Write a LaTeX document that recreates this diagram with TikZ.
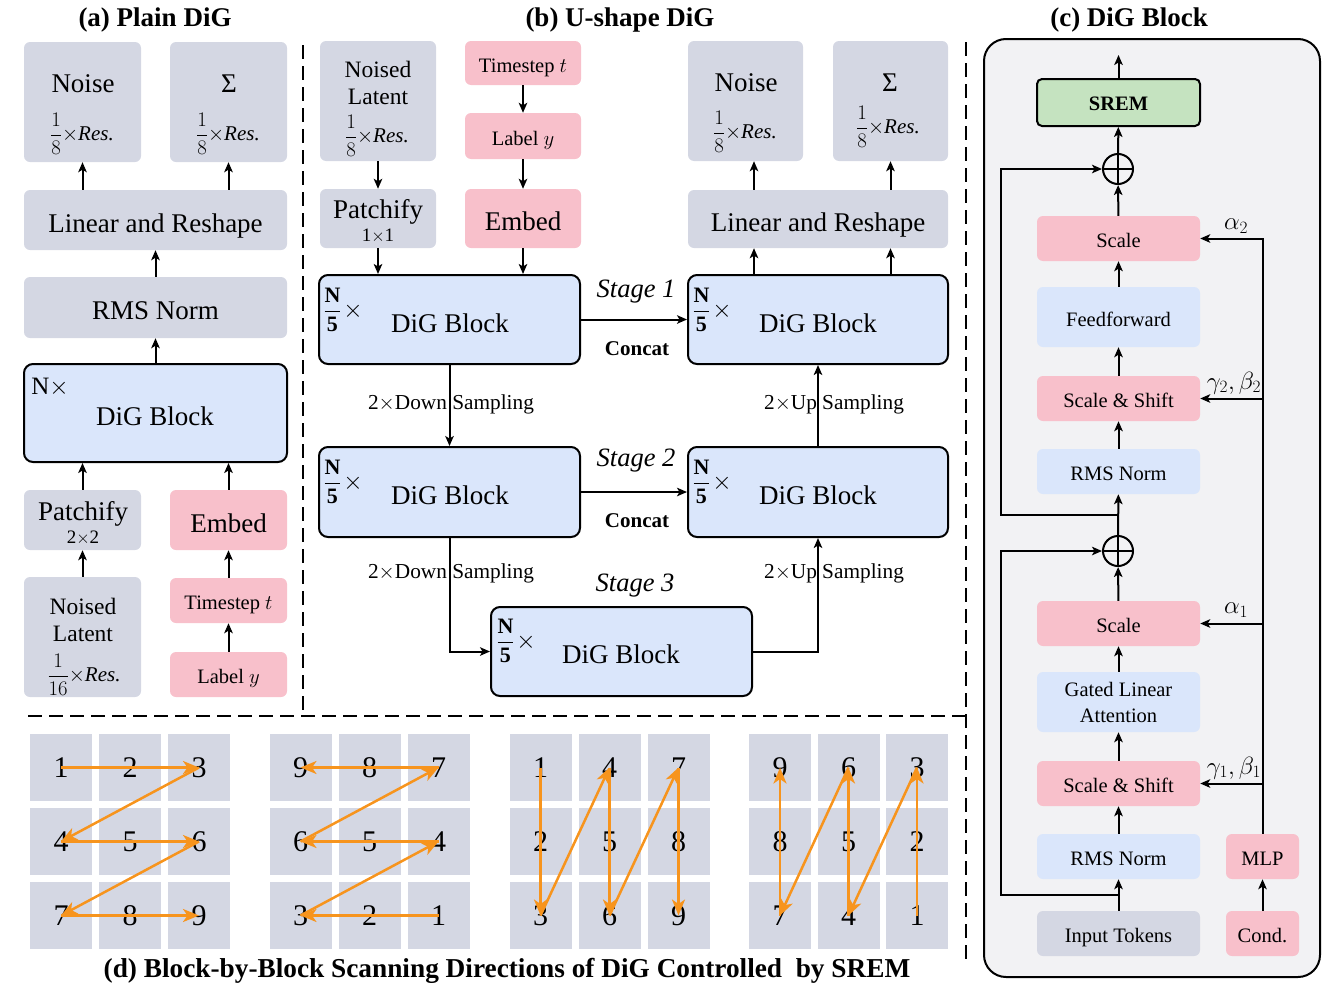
\documentclass[tikz,border=0pt]{standalone}
\usepackage{amsmath}
\usepackage{fontspec}
\setmainfont{Liberation Serif}
\usetikzlibrary{arrows.meta,calc}
\definecolor{cgray}{RGB}{212,215,227}
\definecolor{cpink}{RGB}{248,192,203}
\definecolor{cblue}{RGB}{218,230,251}
\definecolor{cgreen}{RGB}{197,227,192}
\definecolor{cbg}{RGB}{242,242,244}
\definecolor{corange}{RGB}{247,148,29}
\tikzset{
 every node/.append style={align=center},
 bxbase/.style={inner sep=0pt, align=center},
 gbox/.style={bxbase, fill=cgray, rounded corners=6pt},
 pbox/.style={bxbase, fill=cpink, rounded corners=6pt},
 lbox/.style={bxbase, fill=cblue, rounded corners=6pt},
 dbox/.style={bxbase, fill=cblue, draw=black, line width=2pt, rounded corners=9pt},
 fbig/.style={font=\fontsize{27}{30}\selectfont},
 fmid/.style={font=\fontsize{23.5}{27}\selectfont},
 fsml/.style={font=\fontsize{20.5}{26}\selectfont},
 bbig/.style={fbig, text height=24pt, text depth=0pt},
 bsml/.style={fsml, text height=18pt, text depth=0pt},
 fsam/.style={font=\fontsize{21.3}{26}\selectfont},
 fgk/.style={font=\fontsize{24}{26}\selectfont},
 ttl/.style={font=\fontsize{27}{30}\selectfont\bfseries},
 capttl/.style={font=\fontsize{27.3}{30}\selectfont\bfseries},
 stg/.style={font=\fontsize{26.5}{30}\selectfont\itshape},
 ccat/.style={font=\fontsize{21}{24}\selectfont\bfseries},
 arr/.style={-{Stealth[length=10pt,width=8.5pt,inset=2.5pt]}, line width=2pt},
 dsh/.style={line width=2.5pt, dash pattern=on 14pt off 7pt},
 gcell/.style={bxbase, fill=cgray, minimum width=62pt, minimum height=67pt, font=\fontsize{30}{32}\selectfont},
 oarr/.style={-{Stealth[length=16pt,width=13pt,inset=4.5pt]}, line width=2.5pt, draw=corange},
}
\newcommand\fracres[2]{{\fontsize{22}{24}\selectfont$\dfrac{#1}{#2}{\times}$}{\fontsize{21}{24}\selectfont\itshape Res.}}
\newcommand\nfive{{\fontsize{22}{24}\selectfont$\dfrac{\mathbf{N}}{\mathbf{5}}$}\,{\fontsize{32}{34}\selectfont$\times$}}
\begin{document}
\begin{tikzpicture}[x=1pt,y=-1pt]
\useasboundingbox (0,0) rectangle (1338,996);

% ---------- titles ----------
\node[ttl] (tA) at (155,20) {(a) Plain DiG};
\node[ttl] (tB) at (620,20) {(b) U-shape DiG};
\node[ttl] (tC) at (1129,20) {(c) DiG Block};

% ---------- dashed separators ----------
\draw[dsh] (303,45) -- (303,716);
\draw[dsh] (28,716) -- (966,716);
\draw[dsh] (966,42) -- (966,965);

% ---------- panel (a) ----------
\node[gbox, minimum width=117pt, minimum height=120pt] (aNoise) at (82.5,102) {};
\node[fbig] (aNoiseT) at (83,84) {Noise};
\node (aNoiseF) at (82,134) {\fracres{1}{8}};
\node[gbox, minimum width=117pt, minimum height=120pt] (aSig) at (228.5,102) {};
\node[fbig] (aSigT) at (229,84) {Σ};
\node (aSigF) at (228,134) {\fracres{1}{8}};
\node[gbox, bbig, minimum width=263pt, minimum height=60pt] (aLin) at (155.5,220) {Linear and Reshape};
\node[gbox, bbig, minimum width=263pt, minimum height=61pt] (aRms) at (155.5,307.5) {RMS Norm};
\node[dbox, minimum width=263pt, minimum height=98pt] (aDig) at (155.5,413) {};
\node[fbig] (aDigT) at (155,416) {DiG Block};
\node (aDigN) at (50,387) {{\fontsize{25}{28}\selectfont N}{\fontsize{31}{32}\selectfont$\times$}};
\node[gbox, minimum width=117pt, minimum height=60pt] (aPatch) at (82.5,520) {};
\node[fbig] (aPatchT) at (83,514) {Patchify};
\node[font=\fontsize{19}{22}\selectfont] (aPatchS) at (83,538) {2$\times$2};
\node[pbox, bbig, minimum width=117pt, minimum height=60pt] (aEmbed) at (228.5,520) {Embed};
\node[gbox, minimum width=117pt, minimum height=120pt] (aNoised) at (82.5,637) {};
\node[fmid] (aNoisedT) at (83,620) {Noised\\Latent};
\node (aNoisedF) at (84,675) {\fracres{1}{16}};
\node[pbox, bsml, minimum width=117pt, minimum height=45pt] (aTime) at (228.5,600.5) {Timestep $t$};
\node[pbox, bsml, minimum width=117pt, minimum height=45pt] (aLabel) at (228.5,674.5) {Label $y$};

\draw[arr] (aLin.north -| aNoise.south) -- (aNoise.south);
\draw[arr] (aLin.north -| aSig.south) -- (aSig.south);
\draw[arr] (aRms) -- (aLin);
\draw[arr] (aDig) -- (aRms);
\draw[arr] (aPatch.north) -- (aPatch.north |- aDig.south);
\draw[arr] (aEmbed.north) -- (aEmbed.north |- aDig.south);
\draw[arr] (aNoised) -- (aPatch);
\draw[arr] (aTime) -- (aEmbed);
\draw[arr] (aLabel) -- (aTime);

% ---------- panel (b) ----------
\node[gbox, minimum width=116pt, minimum height=120pt] (bNoised) at (378,101) {};
\node[fmid] (bNoisedT) at (378,83) {Noised\\Latent};
\node (bNoisedF) at (377,136) {\fracres{1}{8}};
\node[pbox, bsml, minimum width=116pt, minimum height=44pt] (bTime) at (523,63) {Timestep $t$};
\node[pbox, bsml, minimum width=116pt, minimum height=46pt] (bLabel) at (523,136) {Label $y$};
\node[gbox, minimum width=116pt, minimum height=59pt] (bPatch) at (378,218.5) {};
\node[fbig] (bPatchT) at (378,212) {Patchify};
\node[font=\fontsize{19}{22}\selectfont] (bPatchS) at (378,236) {1$\times$1};
\node[pbox, bbig, minimum width=116pt, minimum height=59pt] (bEmbed) at (523,218.5) {Embed};
\node[gbox, minimum width=115pt, minimum height=120pt] (bNoise) at (745.5,101) {};
\node[fbig] (bNoiseT) at (746,83) {Noise};
\node (bNoiseF) at (745,132) {\fracres{1}{8}};
\node[gbox, minimum width=115pt, minimum height=120pt] (bSig) at (890.5,101) {};
\node[fbig] (bSigT) at (890,83) {Σ};
\node (bSigF) at (888,127) {\fracres{1}{8}};
\node[gbox, bbig, minimum width=260pt, minimum height=58pt] (bLin) at (818,219) {Linear and Reshape};

\node[dbox, minimum width=261pt, minimum height=89pt] (bD1L) at (449.5,319.5) {};
\node[fbig] (bD1LT) at (450,323) {DiG Block};
\node (bD1LN) at (343,310) {\nfive};
\node[dbox, minimum width=260pt, minimum height=89pt] (bD1R) at (818,319.5) {};
\node[fbig] (bD1RT) at (818,323) {DiG Block};
\node (bD1RN) at (712,310) {\nfive};
\node[dbox, minimum width=261pt, minimum height=90pt] (bD2L) at (449.5,492) {};
\node[fbig] (bD2LT) at (450,495) {DiG Block};
\node (bD2LN) at (343,482) {\nfive};
\node[dbox, minimum width=260pt, minimum height=90pt] (bD2R) at (818,492) {};
\node[fbig] (bD2RT) at (818,495) {DiG Block};
\node (bD2RN) at (712,482) {\nfive};
\node[dbox, minimum width=261pt, minimum height=89pt] (bD3) at (621.5,651.5) {};
\node[fbig] (bD3T) at (621,654) {DiG Block};
\node (bD3N) at (516,641) {\nfive};

\node[stg] (bS1) at (636,292) {Stage 1};
\node[ccat] (bC1) at (637,349) {Concat};
\node[stg] (bS2) at (636,461) {Stage 2};
\node[ccat] (bC2) at (637,521) {Concat};
\node[stg] (bS3) at (635,586) {Stage 3};
\node[fsam] (bDs1) at (451,404) {2$\times$Down Sampling};
\node[fsam] (bUs1) at (834,404) {2$\times$Up Sampling};
\node[fsam] (bDs2) at (451,573) {2$\times$Down Sampling};
\node[fsam] (bUs2) at (834,573) {2$\times$Up Sampling};

\coordinate (bNa) at ($(bNoise.south)+(8.5,0)$);
\draw[arr] (bNoised) -- (bPatch);
\draw[arr] (bTime) -- (bLabel);
\draw[arr] (bLabel) -- (bEmbed);
\draw[arr] (bPatch.south) -- (bPatch.south |- bD1L.north);
\draw[arr] (bEmbed.south) -- (bEmbed.south |- bD1L.north);
\draw[arr] (bNa |- bLin.north) -- (bNa);
\draw[arr] (bSig.south |- bLin.north) -- (bSig.south);
\draw[arr] (bNa |- bD1R.north) -- (bNa |- bLin.south);
\draw[arr] (bSig.south |- bD1R.north) -- (bSig.south |- bLin.south);
\draw[arr] (bD1L.east) -- (bD1R.west);
\draw[arr] (bD2L.east) -- (bD2R.west);
\draw[arr] (bD1L.south) -- (bD2L.north);
\draw[arr] (bD2R.north) -- (bD1R.south);
\draw[arr] (bD2L.south) |- (bD3.west);
\draw[arr] (bD3.east) -| (bD2R.south);

% ---------- panel (c) ----------
\node[draw=black, line width=2pt, fill=cbg, rounded corners=22pt, minimum width=336pt, minimum height=938pt, inner sep=0pt] (cPanel) at (1152,508) {};
\node[bxbase, fill=cgreen, draw=black, line width=2pt, rounded corners=5pt, minimum width=163pt, minimum height=47pt, font=\fontsize{20.5}{24}\selectfont\bfseries, text height=16pt, text depth=0pt] (cSrem) at (1118.5,102.5) {SREM};
\node[pbox, bsml, minimum width=163pt, minimum height=45pt] (cScale2) at (1118.5,238.5) {Scale};
\node[lbox, bsml, minimum width=163pt, minimum height=60pt] (cFF) at (1118.5,317) {Feedforward};
\node[pbox, bsml, minimum width=163pt, minimum height=45pt] (cSS2) at (1118.5,398.5) {Scale \& Shift};
\node[lbox, bsml, minimum width=163pt, minimum height=45pt] (cRms2) at (1118.5,471.5) {RMS Norm};
\node[pbox, bsml, minimum width=163pt, minimum height=45pt] (cScale1) at (1118.5,623.5) {Scale};
\node[lbox, fsml, minimum width=163pt, minimum height=60pt] (cGLA) at (1118.5,702) {Gated Linear\\Attention};
\node[pbox, bsml, minimum width=163pt, minimum height=45pt] (cSS1) at (1118.5,783.5) {Scale \& Shift};
\node[lbox, bsml, minimum width=163pt, minimum height=45pt] (cRms1) at (1118.5,856.5) {RMS Norm};
\node[gbox, bsml, minimum width=163pt, minimum height=45pt] (cIn) at (1118.5,933.5) {Input Tokens};
\node[pbox, bsml, minimum width=73pt, minimum height=45pt] (cMLP) at (1262.5,856.5) {MLP};
\node[pbox, bsml, minimum width=73pt, minimum height=45pt] (cCond) at (1262.5,933.5) {Cond.};
\node[circle, draw=black, line width=2pt, minimum size=30pt, inner sep=0pt] (cP2) at (1118,169) {};
\node[circle, draw=black, line width=2pt, minimum size=30pt, inner sep=0pt] (cP1) at (1118,551) {};
\draw[line width=2pt] (cP2.north) -- (cP2.south) (cP2.west) -- (cP2.east);
\draw[line width=2pt] (cP1.north) -- (cP1.south) (cP1.west) -- (cP1.east);

\coordinate (cOut) at (1118.5,55);
\coordinate (cX) at (1001,0);
\coordinate (cB1) at ($(cIn.north)!0.5!(cRms1.south)$);
\coordinate (cB2) at ($(cP1.north)!0.5!(cRms2.south)$);
\draw[arr] (cSrem.north) -- (cOut);
\draw[arr] (cP2) -- (cSrem);
\draw[arr] (cScale2) -- (cP2);
\draw[arr] (cFF) -- (cScale2);
\draw[arr] (cSS2) -- (cFF);
\draw[arr] (cRms2) -- (cSS2);
\draw[arr] (cP1) -- (cRms2);
\draw[arr] (cScale1) -- (cP1);
\draw[arr] (cGLA) -- (cScale1);
\draw[arr] (cSS1) -- (cGLA);
\draw[arr] (cRms1) -- (cSS1);
\draw[arr] (cIn) -- (cRms1);
\draw[arr] (cB1) -- (cB1 -| cX) |- (cP1.west);
\draw[arr] (cB2) -- (cB2 -| cX) |- (cP2.west);
\draw[arr] (cCond) -- (cMLP);
\draw[arr] (cMLP.north) |- (cScale2.east);
\draw[arr] (cMLP.north |- cSS2.east) -- (cSS2.east);
\draw[arr] (cMLP.north |- cScale1.east) -- (cScale1.east);
\draw[arr] (cMLP.north |- cSS1.east) -- (cSS1.east);
\node[fgk] (cLa2) at (1236,226) {$\alpha_2$};
\node[fgk] (cLg2) at (1234,383) {$\gamma_2,\beta_2$};
\node[fgk] (cLa1) at (1236,610) {$\alpha_1$};
\node[fgk] (cLg1) at (1234,768) {$\gamma_1,\beta_1$};

% ---------- panel (d) ----------
\foreach \n [count=\i from 0] in {1,2,3,4,5,6,7,8,9} {
  \pgfmathsetmacro\cx{61+69*mod(\i,3)}
  \pgfmathsetmacro\cy{767.5+74*int(\i/3)}
  \node[gcell] (g1n\n) at (\cx,\cy) {\n};
}
\foreach \n [count=\i from 0] in {9,8,7,6,5,4,3,2,1} {
  \pgfmathsetmacro\cx{300.5+69*mod(\i,3)}
  \pgfmathsetmacro\cy{767.5+74*int(\i/3)}
  \node[gcell] (g2n\n) at (\cx,\cy) {\n};
}
\foreach \n [count=\i from 0] in {1,4,7,2,5,8,3,6,9} {
  \pgfmathsetmacro\cx{540.5+69*mod(\i,3)}
  \pgfmathsetmacro\cy{767.5+74*int(\i/3)}
  \node[gcell] (g3n\n) at (\cx,\cy) {\n};
}
\foreach \n [count=\i from 0] in {9,6,3,8,5,2,7,4,1} {
  \pgfmathsetmacro\cx{780+68.5*mod(\i,3)}
  \pgfmathsetmacro\cy{767.5+74*int(\i/3)}
  \node[gcell] (g4n\n) at (\cx,\cy) {\n};
}
\foreach \g in {1,2,3,4} {
  \draw[oarr] (g\g n1.center) -- (g\g n3.center);
  \draw[oarr] (g\g n3.center) -- (g\g n4.center);
  \draw[oarr] (g\g n4.center) -- (g\g n6.center);
  \draw[oarr] (g\g n6.center) -- (g\g n7.center);
  \draw[oarr] (g\g n7.center) -- (g\g n9.center);
}
\node[capttl] (tD) at (507,971) {(d) Block-by-Block Scanning Directions of DiG Controlled\ \ by SREM};
\end{tikzpicture}
\end{document}
